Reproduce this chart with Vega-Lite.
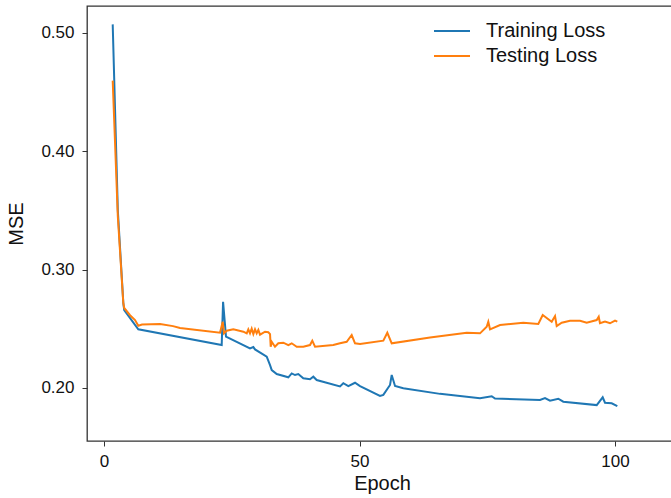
{
  "$schema": "https://vega.github.io/schema/vega-lite/v6.json",
  "width": 590,
  "height": 435,
  "autosize": {"type": "none"},
  "padding": {"left": 87, "top": 6, "right": 0, "bottom": 57},
  "background": "white",
  "config": {
    "font": "Liberation Sans",
    "view": {"stroke": "#333333", "strokeWidth": 1.3},
    "axis": {"grid": false, "domain": false, "tickColor": "#333333", "tickSize": 5, "tickWidth": 1, "labelColor": "#111111", "labelFontSize": 17, "labelPadding": 7, "titleColor": "#111111", "titleFontSize": 20, "titleFontWeight": "normal"}
  },
  "data": {"values": [
    {"s": "Training Loss", "epoch": 1.70, "mse": 0.507},
    {"s": "Training Loss", "epoch": 2.70, "mse": 0.350},
    {"s": "Training Loss", "epoch": 3.78, "mse": 0.2715},
    {"s": "Training Loss", "epoch": 3.95, "mse": 0.2658},
    {"s": "Training Loss", "epoch": 6.71, "mse": 0.2495},
    {"s": "Training Loss", "epoch": 23.03, "mse": 0.2362},
    {"s": "Training Loss", "epoch": 23.30, "mse": 0.2728},
    {"s": "Training Loss", "epoch": 23.87, "mse": 0.2433},
    {"s": "Training Loss", "epoch": 28.57, "mse": 0.2334},
    {"s": "Training Loss", "epoch": 29.22, "mse": 0.2345},
    {"s": "Training Loss", "epoch": 29.55, "mse": 0.2325},
    {"s": "Training Loss", "epoch": 31.84, "mse": 0.2264},
    {"s": "Training Loss", "epoch": 32.49, "mse": 0.2193},
    {"s": "Training Loss", "epoch": 32.82, "mse": 0.2151},
    {"s": "Training Loss", "epoch": 33.80, "mse": 0.2117},
    {"s": "Training Loss", "epoch": 36.07, "mse": 0.2090},
    {"s": "Training Loss", "epoch": 36.73, "mse": 0.2123},
    {"s": "Training Loss", "epoch": 37.38, "mse": 0.2109},
    {"s": "Training Loss", "epoch": 38.02, "mse": 0.2117},
    {"s": "Training Loss", "epoch": 39.00, "mse": 0.2081},
    {"s": "Training Loss", "epoch": 40.31, "mse": 0.2073},
    {"s": "Training Loss", "epoch": 40.96, "mse": 0.2095},
    {"s": "Training Loss", "epoch": 41.62, "mse": 0.2067},
    {"s": "Training Loss", "epoch": 46.18, "mse": 0.2013},
    {"s": "Training Loss", "epoch": 46.83, "mse": 0.2040},
    {"s": "Training Loss", "epoch": 47.81, "mse": 0.2016},
    {"s": "Training Loss", "epoch": 49.12, "mse": 0.2044},
    {"s": "Training Loss", "epoch": 50.10, "mse": 0.2016},
    {"s": "Training Loss", "epoch": 54.01, "mse": 0.1932},
    {"s": "Training Loss", "epoch": 54.66, "mse": 0.1941},
    {"s": "Training Loss", "epoch": 55.97, "mse": 0.2025},
    {"s": "Training Loss", "epoch": 56.30, "mse": 0.2109},
    {"s": "Training Loss", "epoch": 56.95, "mse": 0.2016},
    {"s": "Training Loss", "epoch": 58.57, "mse": 0.1997},
    {"s": "Training Loss", "epoch": 65.75, "mse": 0.1950},
    {"s": "Training Loss", "epoch": 73.58, "mse": 0.1913},
    {"s": "Training Loss", "epoch": 75.87, "mse": 0.1930},
    {"s": "Training Loss", "epoch": 76.52, "mse": 0.1910},
    {"s": "Training Loss", "epoch": 85.32, "mse": 0.1898},
    {"s": "Training Loss", "epoch": 86.30, "mse": 0.1915},
    {"s": "Training Loss", "epoch": 87.28, "mse": 0.1893},
    {"s": "Training Loss", "epoch": 88.90, "mse": 0.1909},
    {"s": "Training Loss", "epoch": 89.88, "mse": 0.1884},
    {"s": "Training Loss", "epoch": 96.42, "mse": 0.1855},
    {"s": "Training Loss", "epoch": 97.59, "mse": 0.1921},
    {"s": "Training Loss", "epoch": 98.04, "mse": 0.1875},
    {"s": "Training Loss", "epoch": 99.35, "mse": 0.1870},
    {"s": "Training Loss", "epoch": 100.45, "mse": 0.1847},
    {"s": "Testing Loss", "epoch": 1.70, "mse": 0.4595},
    {"s": "Testing Loss", "epoch": 2.70, "mse": 0.345},
    {"s": "Testing Loss", "epoch": 3.78, "mse": 0.2715},
    {"s": "Testing Loss", "epoch": 3.95, "mse": 0.2675},
    {"s": "Testing Loss", "epoch": 5.09, "mse": 0.2614},
    {"s": "Testing Loss", "epoch": 6.07, "mse": 0.2573},
    {"s": "Testing Loss", "epoch": 6.71, "mse": 0.2525},
    {"s": "Testing Loss", "epoch": 7.44, "mse": 0.2535},
    {"s": "Testing Loss", "epoch": 10.96, "mse": 0.2540},
    {"s": "Testing Loss", "epoch": 13.50, "mse": 0.2522},
    {"s": "Testing Loss", "epoch": 14.87, "mse": 0.2506},
    {"s": "Testing Loss", "epoch": 22.70, "mse": 0.2466},
    {"s": "Testing Loss", "epoch": 23.23, "mse": 0.2559},
    {"s": "Testing Loss", "epoch": 23.48, "mse": 0.2461},
    {"s": "Testing Loss", "epoch": 24.01, "mse": 0.2483},
    {"s": "Testing Loss", "epoch": 25.30, "mse": 0.2495},
    {"s": "Testing Loss", "epoch": 27.26, "mse": 0.2475},
    {"s": "Testing Loss", "epoch": 27.93, "mse": 0.2461},
    {"s": "Testing Loss", "epoch": 28.24, "mse": 0.2495},
    {"s": "Testing Loss", "epoch": 28.57, "mse": 0.2461},
    {"s": "Testing Loss", "epoch": 28.90, "mse": 0.2500},
    {"s": "Testing Loss", "epoch": 29.22, "mse": 0.2455},
    {"s": "Testing Loss", "epoch": 29.55, "mse": 0.2495},
    {"s": "Testing Loss", "epoch": 29.88, "mse": 0.2461},
    {"s": "Testing Loss", "epoch": 30.20, "mse": 0.2490},
    {"s": "Testing Loss", "epoch": 30.53, "mse": 0.2450},
    {"s": "Testing Loss", "epoch": 31.51, "mse": 0.2475},
    {"s": "Testing Loss", "epoch": 32.15, "mse": 0.2470},
    {"s": "Testing Loss", "epoch": 32.49, "mse": 0.2455},
    {"s": "Testing Loss", "epoch": 32.62, "mse": 0.2348},
    {"s": "Testing Loss", "epoch": 32.82, "mse": 0.2390},
    {"s": "Testing Loss", "epoch": 33.46, "mse": 0.2348},
    {"s": "Testing Loss", "epoch": 34.11, "mse": 0.2377},
    {"s": "Testing Loss", "epoch": 35.09, "mse": 0.2382},
    {"s": "Testing Loss", "epoch": 36.07, "mse": 0.2362},
    {"s": "Testing Loss", "epoch": 36.73, "mse": 0.2377},
    {"s": "Testing Loss", "epoch": 37.71, "mse": 0.2348},
    {"s": "Testing Loss", "epoch": 39.00, "mse": 0.2348},
    {"s": "Testing Loss", "epoch": 40.31, "mse": 0.2362},
    {"s": "Testing Loss", "epoch": 40.76, "mse": 0.2399},
    {"s": "Testing Loss", "epoch": 41.29, "mse": 0.2348},
    {"s": "Testing Loss", "epoch": 44.87, "mse": 0.2362},
    {"s": "Testing Loss", "epoch": 46.18, "mse": 0.2377},
    {"s": "Testing Loss", "epoch": 47.49, "mse": 0.2390},
    {"s": "Testing Loss", "epoch": 48.47, "mse": 0.2447},
    {"s": "Testing Loss", "epoch": 49.12, "mse": 0.2377},
    {"s": "Testing Loss", "epoch": 50.10, "mse": 0.2372},
    {"s": "Testing Loss", "epoch": 54.66, "mse": 0.2399},
    {"s": "Testing Loss", "epoch": 55.44, "mse": 0.2466},
    {"s": "Testing Loss", "epoch": 56.30, "mse": 0.2377},
    {"s": "Testing Loss", "epoch": 63.80, "mse": 0.2425},
    {"s": "Testing Loss", "epoch": 70.98, "mse": 0.2466},
    {"s": "Testing Loss", "epoch": 73.58, "mse": 0.2461},
    {"s": "Testing Loss", "epoch": 74.89, "mse": 0.2517},
    {"s": "Testing Loss", "epoch": 75.20, "mse": 0.2559},
    {"s": "Testing Loss", "epoch": 75.54, "mse": 0.2495},
    {"s": "Testing Loss", "epoch": 77.50, "mse": 0.2531},
    {"s": "Testing Loss", "epoch": 82.05, "mse": 0.2551},
    {"s": "Testing Loss", "epoch": 84.99, "mse": 0.2540},
    {"s": "Testing Loss", "epoch": 85.85, "mse": 0.2616},
    {"s": "Testing Loss", "epoch": 87.61, "mse": 0.2559},
    {"s": "Testing Loss", "epoch": 88.26, "mse": 0.2607},
    {"s": "Testing Loss", "epoch": 88.59, "mse": 0.2523},
    {"s": "Testing Loss", "epoch": 89.57, "mse": 0.2551},
    {"s": "Testing Loss", "epoch": 91.19, "mse": 0.2568},
    {"s": "Testing Loss", "epoch": 93.15, "mse": 0.2568},
    {"s": "Testing Loss", "epoch": 94.46, "mse": 0.2551},
    {"s": "Testing Loss", "epoch": 96.42, "mse": 0.2573},
    {"s": "Testing Loss", "epoch": 96.81, "mse": 0.2601},
    {"s": "Testing Loss", "epoch": 97.06, "mse": 0.2546},
    {"s": "Testing Loss", "epoch": 98.04, "mse": 0.2560},
    {"s": "Testing Loss", "epoch": 99.02, "mse": 0.2546},
    {"s": "Testing Loss", "epoch": 100.00, "mse": 0.2568},
    {"s": "Testing Loss", "epoch": 100.45, "mse": 0.2560}
  ]},
  "mark": {"type": "line", "strokeWidth": 2, "interpolate": "linear"},
  "encoding": {
    "x": {"field": "epoch", "type": "quantitative", "title": "Epoch",
      "scale": {"domain": [-3.33, 112.13], "nice": false, "zero": false},
      "axis": {"values": [0, 50, 100], "titlePadding": 4}},
    "y": {"field": "mse", "type": "quantitative", "title": "MSE",
      "scale": {"domain": [0.1552, 0.5225], "nice": false, "zero": false},
      "axis": {"values": [0.2, 0.3, 0.4, 0.5], "format": ".2f", "titlePadding": 14, "labelPadding": 8}},
    "color": {"field": "s", "type": "nominal", "title": null,
      "scale": {"domain": ["Training Loss", "Testing Loss"], "range": ["#1f77b4", "#ff7f0e"]},
      "legend": {"orient": "none", "legendX": 355, "legendY": 15, "padding": 0,
        "symbolType": "M-2,0H2", "symbolSize": 324, "symbolStrokeWidth": 2,
        "labelFontSize": 20, "labelColor": "#111111", "labelOffset": 24, "rowPadding": 5}},
    "detail": {"field": "s"}
  }
}
